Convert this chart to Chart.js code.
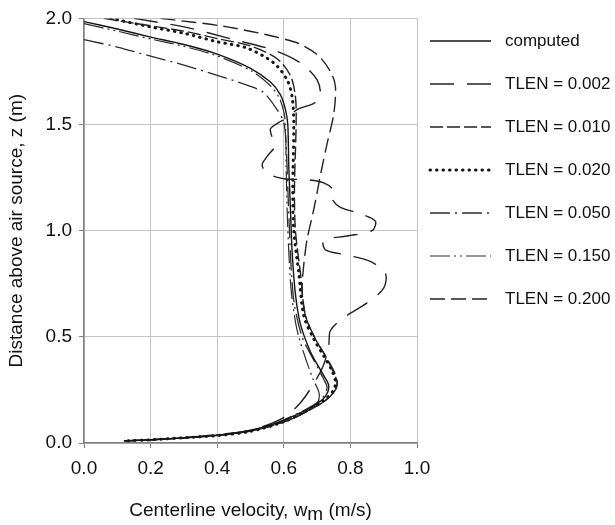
<!DOCTYPE html>
<html>
<head>
<meta charset="utf-8">
<script src="https://cdn.jsdelivr.net/npm/chart.js@4.4.1/dist/chart.umd.min.js"></script>
<style>
  html, body { margin: 0; padding: 0; background: #fff; }
  #wrap { width: 615px; height: 525px; }
</style>
</head>
<body>
<div id="wrap"><canvas id="c" width="615" height="525"></canvas></div>
<script>
// each series: [centerline velocity (m/s), distance z (m)]
const computed = [
  [0, 1.985], [0.1, 1.95], [0.2, 1.912], [0.3, 1.877], [0.4, 1.832], [0.5, 1.765],
  [0.56, 1.70], [0.59, 1.64], [0.605, 1.57], [0.612, 1.50], [0.615, 1.30], [0.62, 1.10],
  [0.625, 0.90], [0.635, 0.70], [0.65, 0.56], [0.68, 0.43], [0.715, 0.33], [0.735, 0.27],
  [0.725, 0.22], [0.69, 0.175], [0.64, 0.135], [0.58, 0.095], [0.5, 0.06], [0.4, 0.037],
  [0.3, 0.024], [0.2, 0.015], [0.12, 0.01]
];
const tlen002 = [
  [0.15, 2.0], [0.3, 1.96], [0.45, 1.9], [0.57, 1.85], [0.65, 1.79], [0.70, 1.71],
  [0.71, 1.63], [0.69, 1.60], [0.64, 1.57], [0.61, 1.53], [0.585, 1.51], [0.56, 1.48],
  [0.565, 1.44], [0.574, 1.40], [0.55, 1.35], [0.535, 1.31], [0.55, 1.27], [0.6, 1.245],
  [0.67, 1.24], [0.72, 1.225], [0.75, 1.19], [0.745, 1.15], [0.77, 1.11], [0.83, 1.08],
  [0.875, 1.045], [0.865, 1.0], [0.79, 0.975], [0.72, 0.955], [0.725, 0.91], [0.79, 0.885],
  [0.86, 0.855], [0.905, 0.8], [0.9, 0.73], [0.85, 0.66], [0.78, 0.59], [0.74, 0.53],
  [0.735, 0.46], [0.72, 0.37], [0.69, 0.28], [0.65, 0.19], [0.6, 0.12], [0.5, 0.06],
  [0.4, 0.04], [0.3, 0.025], [0.2, 0.015], [0.12, 0.01]
];
const tlen010 = [
  [0.06, 2.0], [0.2, 1.965], [0.3, 1.94], [0.4, 1.905], [0.5, 1.87], [0.58, 1.81],
  [0.62, 1.73], [0.635, 1.63], [0.637, 1.5], [0.632, 1.2], [0.635, 1.0], [0.65, 0.8],
  [0.665, 0.6], [0.695, 0.49], [0.725, 0.41], [0.75, 0.33], [0.76, 0.29], [0.755, 0.25],
  [0.725, 0.2], [0.665, 0.145], [0.6, 0.1], [0.5, 0.056], [0.4, 0.036], [0.3, 0.025],
  [0.2, 0.015], [0.12, 0.01]
];
const tlen020 = [
  [0.08, 2.0], [0.2, 1.96], [0.3, 1.93], [0.4, 1.89], [0.49, 1.86], [0.57, 1.79],
  [0.61, 1.71], [0.625, 1.63], [0.63, 1.5], [0.627, 1.2], [0.63, 1.0], [0.645, 0.8],
  [0.66, 0.6], [0.69, 0.49], [0.72, 0.41], [0.745, 0.34], [0.755, 0.29], [0.75, 0.25],
  [0.72, 0.2], [0.66, 0.145], [0.6, 0.1], [0.5, 0.055], [0.4, 0.035], [0.3, 0.025],
  [0.2, 0.015], [0.12, 0.01]
];
const tlen050 = [
  [0, 1.90], [0.1, 1.865], [0.2, 1.822], [0.3, 1.78], [0.4, 1.732], [0.5, 1.68],
  [0.54, 1.65], [0.58, 1.57], [0.6, 1.51], [0.607, 1.4], [0.612, 1.2], [0.617, 1.0],
  [0.623, 0.8], [0.632, 0.65], [0.655, 0.5], [0.69, 0.39], [0.72, 0.3], [0.73, 0.26],
  [0.715, 0.21], [0.68, 0.17], [0.63, 0.13], [0.57, 0.09], [0.5, 0.058], [0.4, 0.036],
  [0.3, 0.024], [0.2, 0.015], [0.12, 0.01]
];
const tlen150 = [
  [0, 1.975], [0.1, 1.94], [0.2, 1.903], [0.3, 1.868], [0.4, 1.823], [0.5, 1.755],
  [0.555, 1.69], [0.585, 1.63], [0.6, 1.56], [0.605, 1.5], [0.607, 1.3], [0.61, 1.1],
  [0.615, 0.9], [0.622, 0.72], [0.635, 0.57], [0.645, 0.5], [0.665, 0.4], [0.688, 0.3],
  [0.706, 0.235], [0.70, 0.185], [0.665, 0.145], [0.61, 0.105], [0.5, 0.058], [0.4, 0.036],
  [0.3, 0.024], [0.2, 0.015], [0.12, 0.01]
];
const tlen200 = [
  [0.23, 2.0], [0.43, 1.96], [0.63, 1.89], [0.70, 1.83], [0.74, 1.75], [0.755, 1.68],
  [0.75, 1.55], [0.73, 1.41], [0.715, 1.30], [0.69, 1.10], [0.67, 0.96], [0.66, 0.84],
  [0.655, 0.72], [0.665, 0.6], [0.695, 0.49], [0.725, 0.41], [0.75, 0.34], [0.76, 0.29],
  [0.755, 0.25], [0.725, 0.2], [0.665, 0.145], [0.6, 0.1], [0.5, 0.056], [0.4, 0.036],
  [0.3, 0.025], [0.2, 0.015], [0.12, 0.01]
];

const seriesNames = ["computed", "TLEN = 0.002", "TLEN = 0.010", "TLEN = 0.020",
  "TLEN = 0.050", "TLEN = 0.150", "TLEN = 0.200"];
const seriesData = [computed, tlen002, tlen010, tlen020, tlen050, tlen150, tlen200];

const xMin = 0, xMax = 1.0, xStep = 0.2;
const yMin = 0, yMax = 2.0, yStep = 0.5;

const FONT = "'Liberation Sans', Arial, sans-serif";
const INK = "#141414";

// line look per series (same order as seriesNames)
const styles = [
  { dash: [], width: 1.4, cap: "butt", color: INK },
  { dash: [24, 13], width: 1.4, cap: "butt", color: "#222" },
  { dash: [13, 4], width: 1.4, cap: "butt", color: "#222" },
  { dash: [0.5, 6], width: 3, cap: "round", color: INK },
  { dash: [20, 5, 2, 5], width: 1.3, cap: "butt", color: "#2c2c2c" },
  { dash: [20, 4, 2, 4, 2, 4], width: 1.2, cap: "butt", color: "#2c2c2c" },
  { dash: [15, 6], width: 1.4, cap: "butt", color: "#222" }
];

const datasets = seriesData.map((pts, i) => ({
  label: seriesNames[i],
  data: pts.map(p => ({ x: p[0], y: p[1] })),
  showLine: true,
  borderColor: styles[i].color,
  borderWidth: styles[i].width,
  borderDash: styles[i].dash,
  borderCapStyle: styles[i].cap,
  pointRadius: 0,
  tension: 0.3,
  fill: false
}));

// legend and x title with subscript, drawn on the canvas
const sideLegend = {
  id: "sideLegend",
  afterDraw(chart) {
    const ctx = chart.ctx;
    ctx.save();
    chart.data.datasets.forEach((ds, i) => {
      const y = 41 + i * 43;
      ctx.beginPath();
      ctx.setLineDash(ds.borderDash);
      ctx.lineWidth = ds.borderWidth;
      ctx.lineCap = ds.borderCapStyle;
      ctx.strokeStyle = ds.borderColor;
      ctx.moveTo(430, y);
      ctx.lineTo(491, y);
      ctx.stroke();
      ctx.setLineDash([]);
      ctx.fillStyle = "#111";
      ctx.font = "17px " + FONT;
      ctx.textBaseline = "middle";
      ctx.textAlign = "left";
      ctx.fillText(ds.label, 505, y);
    });

    const a = chart.chartArea;
    const parts = ["Centerline velocity, w", "m", " (m/s)"];
    ctx.font = "19px " + FONT;
    ctx.fillStyle = "#111";
    ctx.textBaseline = "alphabetic";
    const w = parts.map(t => ctx.measureText(t).width);
    let x = (a.left + a.right) / 2 - (w[0] + w[1] + w[2]) / 2;
    const base = 516;
    ctx.fillText(parts[0], x, base);
    x += w[0];
    ctx.fillText(parts[1], x, base + 4);
    x += w[1];
    ctx.fillText(parts[2], x, base);
    ctx.restore();
  }
};

new Chart(document.getElementById("c"), {
  type: "scatter",
  data: { datasets },
  plugins: [sideLegend],
  options: {
    responsive: false,
    animation: false,
    layout: { padding: { left: 0, top: 14, right: 198, bottom: 0 } },
    plugins: {
      legend: { display: false },
      tooltip: { enabled: false }
    },
    scales: {
      x: {
        type: "linear",
        min: xMin,
        max: xMax,
        afterFit: s => { s.height = 82; },
        ticks: {
          stepSize: xStep,
          color: "#111",
          font: { family: FONT, size: 19 },
          padding: 9,
          callback: v => v.toFixed(1)
        },
        grid: { color: "#c4c4c4", tickColor: "#808080", tickLength: 5, lineWidth: 1 },
        border: { color: "#808080", width: 1.5 }
      },
      y: {
        type: "linear",
        min: yMin,
        max: yMax,
        afterFit: s => { s.width = 84; },
        ticks: {
          stepSize: yStep,
          color: "#111",
          font: { family: FONT, size: 19 },
          padding: 7,
          callback: v => v.toFixed(1)
        },
        grid: { color: "#c4c4c4", tickColor: "#808080", tickLength: 5, lineWidth: 1 },
        border: { color: "#808080", width: 1.5 },
        title: {
          display: true,
          text: "Distance above air source, z (m)",
          color: "#111",
          font: { family: FONT, size: 19 },
          padding: { top: 5, bottom: 0 }
        }
      }
    }
  }
});
</script>
</body>
</html>
